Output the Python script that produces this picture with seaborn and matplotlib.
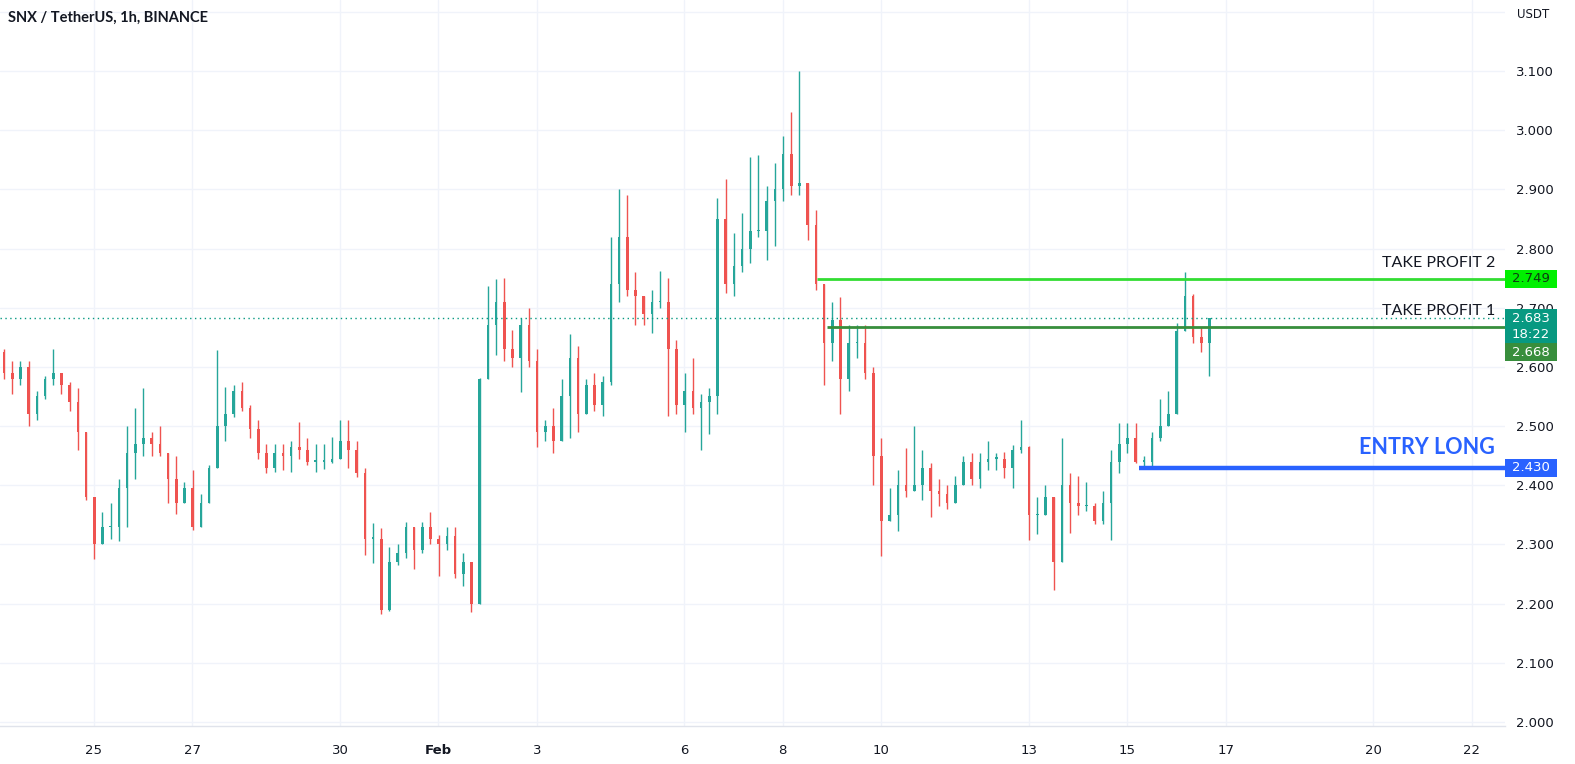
import numpy as np
import matplotlib
matplotlib.use("Agg")
import matplotlib.pyplot as plt
import matplotlib.transforms as mtransforms
from matplotlib.patches import Rectangle
import seaborn as sns
import pandas as pd

# ---------------- data (4-hour aggregated bars) ----------------
highs = [2.631, 2.610, 2.610, 2.610, 2.560, 2.585, 2.630, 2.590, 2.575, 2.565,
         2.490, 2.365, 2.355, 2.370, 2.410, 2.500, 2.530, 2.565, 2.490, 2.500,
         2.450, 2.450, 2.405, 2.425, 2.385, 2.435, 2.628, 2.566, 2.570, 2.575,
         2.535, 2.510, 2.470, 2.470, 2.470, 2.475, 2.507, 2.480, 2.470, 2.470,
         2.482, 2.510, 2.510, 2.475, 2.430, 2.337, 2.327, 2.296, 2.300, 2.338,
         2.323, 2.338, 2.354, 2.316, 2.330, 2.330, 2.286, 2.266, 2.582, 2.737,
         2.748, 2.750, 2.663, 2.683, 2.700, 2.630, 2.510, 2.530, 2.580, 2.655,
         2.635, 2.580, 2.590, 2.585, 2.820, 2.900, 2.890, 2.760, 2.713, 2.730,
         2.762, 2.750, 2.645, 2.590, 2.615, 2.555, 2.565, 2.885, 2.917, 2.826,
         2.860, 2.955, 2.958, 2.905, 2.945, 2.990, 3.030, 3.100, 2.900, 2.865,
         2.700, 2.710, 2.718, 2.670, 2.670, 2.670, 2.600, 2.480, 2.395, 2.425,
         2.463, 2.500, 2.460, 2.437, 2.410, 2.400, 2.415, 2.450, 2.455, 2.455,
         2.475, 2.455, 2.457, 2.468, 2.510, 2.467, 2.380, 2.400, 2.370, 2.480,
         2.420, 2.415, 2.405, 2.370, 2.390, 2.460, 2.505, 2.505, 2.505, 2.450,
         2.490, 2.545, 2.560, 2.675, 2.760, 2.723, 2.668, 2.683]
lows = [2.580, 2.555, 2.570, 2.500, 2.510, 2.545, 2.570, 2.555, 2.525, 2.460,
        2.375, 2.276, 2.305, 2.310, 2.305, 2.330, 2.410, 2.450, 2.450, 2.450,
        2.370, 2.352, 2.370, 2.324, 2.335, 2.370, 2.430, 2.475, 2.515, 2.525,
        2.480, 2.445, 2.420, 2.422, 2.425, 2.422, 2.445, 2.435, 2.422, 2.428,
        2.437, 2.445, 2.430, 2.414, 2.282, 2.268, 2.183, 2.188, 2.265, 2.277,
        2.258, 2.286, 2.300, 2.247, 2.290, 2.243, 2.230, 2.185, 2.200, 2.580,
        2.620, 2.610, 2.600, 2.558, 2.600, 2.464, 2.475, 2.455, 2.480, 2.480,
        2.490, 2.535, 2.525, 2.517, 2.570, 2.710, 2.720, 2.670, 2.670, 2.658,
        2.700, 2.517, 2.520, 2.490, 2.520, 2.460, 2.486, 2.520, 2.725, 2.720,
        2.760, 2.775, 2.820, 2.780, 2.805, 2.880, 2.890, 2.890, 2.815, 2.730,
        2.570, 2.610, 2.520, 2.560, 2.615, 2.580, 2.400, 2.280, 2.340, 2.323,
        2.380, 2.390, 2.375, 2.347, 2.365, 2.360, 2.370, 2.400, 2.400, 2.395,
        2.425, 2.425, 2.412, 2.395, 2.455, 2.307, 2.318, 2.357, 2.223, 2.290,
        2.320, 2.350, 2.357, 2.335, 2.335, 2.307, 2.420, 2.455, 2.437, 2.430,
        2.430, 2.475, 2.505, 2.520, 2.673, 2.640, 2.625, 2.584]
closes = [2.590, 2.580, 2.600, 2.520, 2.550, 2.580, 2.590, 2.570, 2.540, 2.490,
          2.380, 2.300, 2.330, 2.330, 2.395, 2.455, 2.470, 2.480, 2.470, 2.455,
          2.410, 2.370, 2.395, 2.330, 2.370, 2.430, 2.500, 2.520, 2.560, 2.530,
          2.495, 2.455, 2.430, 2.455, 2.450, 2.465, 2.460, 2.440, 2.440, 2.440,
          2.445, 2.475, 2.460, 2.420, 2.310, 2.310, 2.190, 2.270, 2.285, 2.330,
          2.290, 2.330, 2.310, 2.300, 2.315, 2.250, 2.270, 2.200, 2.580, 2.670,
          2.710, 2.630, 2.615, 2.670, 2.610, 2.490, 2.500, 2.475, 2.550, 2.615,
          2.520, 2.570, 2.535, 2.575, 2.740, 2.820, 2.730, 2.720, 2.690, 2.710,
          2.710, 2.630, 2.535, 2.560, 2.530, 2.540, 2.550, 2.850, 2.740, 2.770,
          2.800, 2.830, 2.830, 2.880, 2.900, 2.960, 2.905, 2.910, 2.840, 2.740,
          2.640, 2.680, 2.580, 2.640, 2.640, 2.590, 2.450, 2.340, 2.350, 2.400,
          2.390, 2.400, 2.430, 2.390, 2.385, 2.370, 2.400, 2.440, 2.410, 2.440,
          2.445, 2.445, 2.430, 2.460, 2.465, 2.350, 2.350, 2.380, 2.270, 2.400,
          2.370, 2.365, 2.365, 2.340, 2.370, 2.440, 2.470, 2.480, 2.440, 2.440,
          2.480, 2.500, 2.520, 2.660, 2.720, 2.650, 2.640, 2.683]
first_open = 2.625

# time axis: hours after 23 Jan 00:00
first_bar_hour = 4.15
bar_step_hours = 4
date_tick_hours = [48, 96, 168, 216, 264, 336, 384, 432, 504, 552, 600, 672, 720]
date_tick_labels = ["25", "27", "30", "Feb", "3", "6", "8", "10", "13", "15", "17", "20", "22"]
price_ticks = [2.0, 2.1, 2.2, 2.3, 2.4, 2.5, 2.6, 2.7, 2.8, 2.9, 3.0, 3.1]

tp2_price, tp2_start = 2.749, 400.7
tp1_price, tp1_start = 2.668, 405.6
entry_price, entry_start = 2.430, 558.0
last_price = 2.683
countdown = "18:22"
title = "SNX / TetherUS, 1h, BINANCE"

# ---------------- frame ----------------
n = len(closes)
df = pd.DataFrame({
    "t": first_bar_hour + bar_step_hours * np.arange(n),
    "open": [first_open] + closes[:-1],
    "high": highs,
    "low": lows,
    "close": closes,
})
df["high"] = df[["high", "open", "close"]].max(axis=1)
df["low"] = df[["low", "open", "close"]].min(axis=1)
df["up"] = df["close"] >= df["open"]

UP, DOWN = "#26a69a", "#ef5350"
TEXT = "#131722"
GRID = "#f0f3fa"

sns.set_style("white")
plt.rcParams["font.family"] = ["DejaVu Sans"]

W, H = 1575, 764
fig = plt.figure(figsize=(W / 100, H / 100), dpi=100)
fig.patch.set_facecolor("white")
ax = fig.add_axes([0, 38 / H, 1505 / W, 726 / H])

ymin, ymax = 1.9932, 3.22
xmin, xmax = 2.15, 736.3
ax.set_xlim(xmin, xmax)
ax.set_ylim(ymin, ymax)

# grid and scales
ax.set_yticks(price_ticks + [3.2])
ax.set_yticklabels([f"{p:.3f}" for p in price_ticks] + [""])
ax.set_xticks(date_tick_hours)
ax.set_xticklabels(date_tick_labels)
ax.grid(True, color=GRID, lw=1, zorder=0)
ax.set_axisbelow(True)
ax.yaxis.tick_right()
ax.tick_params(axis="y", length=0, pad=8, labelsize=9.5, labelcolor=TEXT)
ax.tick_params(axis="x", length=0, pad=13, labelsize=9.5, labelcolor=TEXT)
for lbl in ax.get_xticklabels():
    if lbl.get_text() == "Feb":
        lbl.set_fontweight("bold")
for s in ["top", "right", "left"]:
    ax.spines[s].set_visible(False)
ax.spines["bottom"].set_color("#e0e3eb")
ax.spines["bottom"].set_linewidth(1)

# candles
colors = np.where(df["up"], UP, DOWN)
ax.vlines(df["t"], df["low"], df["high"], colors=colors, lw=1.0, zorder=2)
body = (df["close"] - df["open"]).abs().clip(lower=0.002)
ax.bar(df["t"], body, bottom=df[["open", "close"]].min(axis=1), width=1.2,
       color=colors, linewidth=0, zorder=3)

# level lines
ax.axhline(last_price, color="#089981", lw=1, ls=(0, (1, 2.5)), zorder=4)
ax.hlines(tp2_price, tp2_start, xmax, color="#33dd33", lw=2, zorder=5)
ax.hlines(tp1_price, tp1_start, xmax, color="#388e3c", lw=2, zorder=5)
ax.hlines(entry_price, entry_start, xmax, color="#2962ff", lw=3.2, zorder=5)

bt = mtransforms.blended_transform_factory(ax.transAxes, ax.transData)
ax.text(1495 / 1505, 2.776, "TAKE PROFIT 2", transform=bt, ha="right", va="center",
        fontsize=11.5, family=["Lato", "DejaVu Sans"], color=TEXT, zorder=6)
ax.text(1495 / 1505, 2.695, "TAKE PROFIT 1", transform=bt, ha="right", va="center",
        fontsize=11.5, family=["Lato", "DejaVu Sans"], color=TEXT, zorder=6)
ax.text(1495 / 1505, 2.463, "ENTRY LONG", transform=bt, ha="right", va="center",
        fontsize=15.5, fontweight="bold", family=["Lato", "DejaVu Sans"],
        color="#2962ff", zorder=6)

# price boxes on the right scale
px_per_unit = 726 / (ymax - ymin)
ft = mtransforms.blended_transform_factory(fig.transFigure, ax.transData)
bx0, bw = 1505 / W, 52 / W
bxc = 1531 / W


def price_box(y0, y1, color):
    r = Rectangle((bx0, y0), bw, y1 - y0, transform=ft, facecolor=color,
                  edgecolor="none", clip_on=False, zorder=10)
    fig.add_artist(r)


def box_text(y, s, color="white"):
    t = fig.text(bxc, y, s, transform=ft, ha="center", va="center",
                 fontsize=9.5, color=color, zorder=11)
    t.set_clip_on(False)


hh = 18 / px_per_unit
price_box(tp2_price - hh / 2, tp2_price + hh / 2, "#00f000")
box_text(tp2_price, f"{tp2_price:.3f}", "#0d3b12")
price_box(2.640, 2.698, "#089981")
box_text(2.6826, f"{last_price:.3f}")
box_text(2.6556, countdown)
price_box(2.610, 2.640, "#388e3c")
box_text(2.625, f"{tp1_price:.3f}")
price_box(entry_price - hh / 2, entry_price + hh / 2, "#2962ff")
box_text(entry_price, f"{entry_price:.3f}")

fig.text(8 / W, 1 - 18 / H, title, ha="left", va="center", fontsize=10.5,
         fontweight="bold", family=["Lato", "DejaVu Sans"], color=TEXT)
fig.text(1517 / W, 1 - 15 / H, "USDT", ha="left", va="center", fontsize=8.5, color=TEXT)

fig.savefig("out.png", dpi=100, facecolor="white")
